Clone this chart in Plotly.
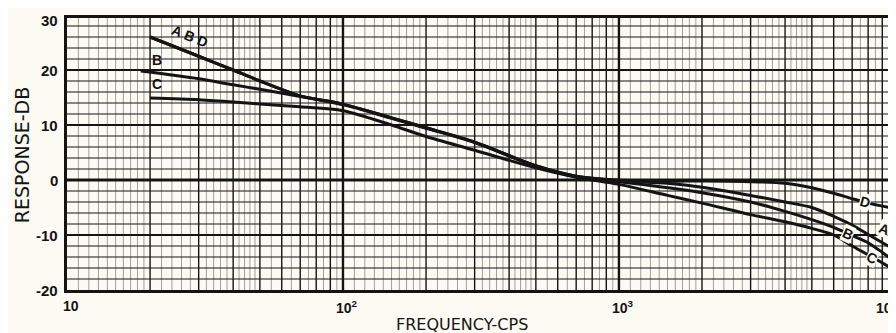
import numpy as np
import plotly.graph_objects as go

# curves: frequency (cps) and response (db)
freq = [20, 30, 40, 50, 70, 100, 150, 200, 300, 500, 700, 1000,
        1500, 2000, 3000, 4000, 5000, 6000, 7000, 8000, 10000]
resp_a = [26.0, 22.5, 20.0, 18.0, 15.3, 13.8, 11.3, 9.5, 6.9, 2.6, 0.7, -0.1,
          -0.6, -1.3, -2.8, -4.0, -5.0, -6.6, -8.2, -9.9, -12.7]
resp_d = [26.0, 22.5, 20.0, 18.0, 15.3, 13.8, 11.3, 9.5, 6.9, 2.6, 0.7, 0.0,
          -0.2, -0.2, -0.3, -0.6, -1.4, -2.4, -3.4, -4.2, -5.2]
freq_b = [18.5, 30, 40, 50, 70, 100, 150, 200, 300, 500, 700, 1000,
          1500, 2000, 3000, 4000, 5000, 6000, 7000, 8000, 10000]
resp_b = [19.8, 18.4, 17.3, 16.5, 15.2, 13.7, 11.2, 9.4, 6.8, 2.5, 0.6, -0.3,
          -1.4, -2.3, -4.0, -5.7, -7.2, -8.6, -10.1, -11.4, -14.9]
resp_c = [14.9, 14.6, 14.2, 13.8, 13.3, 12.6, 10.0, 7.9, 5.4, 2.2, 0.5, -0.8,
          -2.8, -4.2, -6.3, -7.6, -8.8, -10.0, -12.0, -13.6, -16.4]

y_ticks = [-20, -10, 0, 10, 20, 30]
x_ticks = [10, 100, 1000, 10000]
x_labels = ['10', '10<sup>2</sup>', '10<sup>3</sup>', '10<sup>4</sup>']

paper = '#fbfaf3'
ink = '#141414'
font = dict(family='Liberation Sans, Arial, sans-serif', color=ink)
title_font = dict(family='DejaVu Sans, sans-serif', color=ink)

fig = go.Figure()


def grid(xs=None, ys=None, color=ink, width=1.0):
    # many grid lines in one trace, split by None
    px, py = [], []
    if xs is not None:
        for v in xs:
            px += [v, v, None]
            py += [-20, 30, None]
    else:
        for v in ys:
            px += [10, 10500, None]
            py += [v, v, None]
    fig.add_trace(go.Scatter(x=px, y=py, mode='lines', hoverinfo='skip',
                             line=dict(color=color, width=width), showlegend=False))


# log paper
minor_x, major_x = [], []
for d in [10, 100, 1000]:
    for m in list(np.arange(1.1, 2, 0.1)) + list(np.arange(2.2, 5, 0.2)) + list(np.arange(5.5, 10, 0.5)):
        if abs(m - round(m)) > 1e-6:
            minor_x.append(m * d)
    for m in range(2, 10):
        major_x.append(m * d)
grid(xs=minor_x, color='#8a8a86', width=0.8)
grid(xs=major_x, color=ink, width=1.4)
grid(xs=[100, 1000, 10000], color=ink, width=2.4)
grid(ys=[v for v in range(-18, 30, 2) if v % 10], color=ink, width=1.2)
grid(ys=[-10, 10, 20], color=ink, width=2.0)
grid(ys=[0], color=ink, width=3.2)
grid(ys=[30], color=ink, width=6)

for f, r in [(freq, resp_c), (freq_b, resp_b), (freq, resp_a), (freq, resp_d)]:
    fig.add_trace(go.Scatter(x=f, y=r, mode='lines', hoverinfo='skip', showlegend=False,
                             line=dict(color=ink, width=3, shape='spline', smoothing=0.8)))

# curve labels, pinned to a point of each curve
labels = [
    ('A B D', freq[1], resp_a[1], -9, 20, 22),
    ('B', freq_b[0], resp_b[0], 16, 11, 0),
    ('C', freq[0], resp_c[0], 7, 14, 0),
    ('D', freq[19], resp_d[19], -3, 1, 15),
    ('A', freq[19], resp_a[19], 16, 5, 20),
    ('B', freq[18], resp_b[18], -4, 2, 25),
    ('C', freq[19], resp_c[19], 4, -3, 25),
]
for txt, fx, fy, dx, dy, ang in labels:
    fig.add_annotation(x=np.log10(fx), y=fy, text=txt, showarrow=False,
                       xshift=dx, yshift=dy, textangle=ang,
                       bgcolor=paper if len(txt) == 1 and fx > 1000 else 'rgba(0,0,0,0)',
                       borderpad=0, font=dict(size=14, weight='bold', **font))

# x tick labels, written under the axis (the last one is cut by the page edge)
for v, t in zip(x_ticks, x_labels):
    fig.add_annotation(x=np.log10(v), y=0, yref='paper', text=t, showarrow=False,
                       yanchor='top', yshift=-6, xshift=4 if v < 10000 else -8,
                       font=dict(size=14, weight='bold', **font))

# y tick labels; the top one sits a little below its line, as on the paper
for v in y_ticks:
    fig.add_annotation(x=0, xref='paper', y=v, text=str(v), showarrow=False,
                       xanchor='right', xshift=-7, yshift=-5 if v == 30 else 0,
                       font=dict(size=15, weight='bold', **font))

fig.add_annotation(x=0.477, y=0, xref='paper', yref='paper', yanchor='top', yshift=-23,
                   text='FREQUENCY-CPS', showarrow=False, font=dict(size=16, **title_font))
fig.add_annotation(x=0, y=0.49, xref='paper', yref='paper', xanchor='center', xshift=-45,
                   text='RESPONSE-DB', textangle=-90, showarrow=False,
                   font=dict(size=19, **title_font))

# the page body adds an 8px margin, so the figure is sized to land in the window
fig.update_layout(
    width=888, height=325,
    margin=dict(l=59, r=0, t=7, b=43),
    paper_bgcolor=paper, plot_bgcolor=paper,
    font=font,
)
fig.update_xaxes(type='log', range=[1, 4.004], showticklabels=False, automargin=False,
                 showgrid=False, zeroline=False, showline=True, linewidth=3, linecolor=ink,
                 ticks='')
fig.update_yaxes(range=[-20, 30], showticklabels=False, automargin=False,
                 showgrid=False, zeroline=False, showline=True, linewidth=3, linecolor=ink,
                 ticks='')

fig.write_html('out.html')
